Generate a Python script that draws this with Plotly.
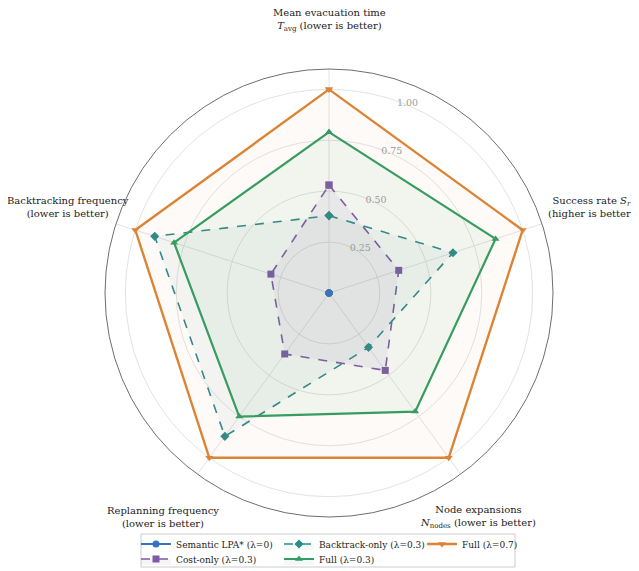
import plotly.graph_objects as go

# normalised scores per metric (clockwise from top)
categories = [
    "Mean evacuation time",
    "Success rate",
    "Node expansions",
    "Replanning frequency",
    "Backtracking frequency",
]
semantic_lpa = [0.0, 0.0, 0.0, 0.0, 0.0]
cost_only = [0.53, 0.36, 0.47, 0.37, 0.30]
backtrack_only = [0.38, 0.64, 0.33, 0.87, 0.90]
full_03 = [0.79, 0.86, 0.72, 0.75, 0.80]
full_07 = [1.0, 1.0, 1.0, 1.0, 1.0]

radial_ticks = [0.25, 0.50, 0.75, 1.00]
radial_ticktext = ["0.25", "0.50", "0.75", "1.00"]

axis_labels = [
    "Mean evacuation time<br><i>T</i><sub>avg</sub> (lower is better)",
    "Success rate <i>S<sub>r</sub></i><br>(higher is better)",
    "Node expansions<br><i>N</i><sub>nodes</sub> (lower is better)",
    "Replanning frequency<br>(lower is better)",
    "Backtracking frequency<br>(lower is better)",
]

FONT = "DejaVu Serif"

# the page body adds an 8px offset, so the figure is a bit smaller
OFF = 8
W, H = 639 - OFF, 571 - OFF
ML, MR, MT, MB = 50, 51, 0, 0
GW, GH = W - ML - MR, H - MT - MB


def px(x, y):
    # screen pixel -> paper coords
    return (x - OFF - ML) / GW, 1 - (y - OFF - MT) / GH


# polar circle: centre (329, 293), outer radius 224 on screen
x0, y1 = px(329 - 224, 293 - 224)
x1, y0 = px(329 + 224, 293 + 224)

# legend rows like matplotlib's 3-column legend (column-major order)
series = [
    ("Semantic LPA* (λ=0)", semantic_lpa, "#3373c4", "circle", "solid", 1.8, None, "legend"),
    ("Cost-only (λ=0.3)", cost_only, "#7e5aa8", "square", "dash", 1.6, "rgba(126,90,168,0.07)", "legend2"),
    ("Backtrack-only (λ=0.3)", backtrack_only, "#2b8a8c", "diamond", "dash", 1.6, "rgba(43,138,140,0.05)", "legend"),
    ("Full (λ=0.3)", full_03, "#2f9e62", "triangle-up", "solid", 2.2, "rgba(47,158,98,0.06)", "legend2"),
    ("Full (λ=0.7)", full_07, "#dc8435", "triangle-down", "solid", 2.4, "rgba(220,132,53,0.04)", "legend"),
]

fig = go.Figure()
for name, vals, color, sym, dash, lw, fillc, leg in series:
    fig.add_trace(go.Scatterpolar(
        r=vals + vals[:1],
        theta=categories + categories[:1],
        mode="lines+markers",
        name=name,
        line=dict(color=color, width=lw, dash=dash),
        marker=dict(symbol=sym, size=7, color=color),
        fill="toself" if fillc else "none",
        fillcolor=fillc,
        legend=leg,
    ))

leg_common = dict(
    orientation="h", xanchor="left", yanchor="middle",
    bgcolor="rgba(0,0,0,0)", borderwidth=0,
    entrywidth=98, entrywidthmode="pixels",
    font=dict(size=9, color="#222"),
)

fig.update_layout(
    width=W, height=H,
    margin=dict(l=ML, r=MR, t=MT, b=MB, autoexpand=False),
    paper_bgcolor="white",
    font=dict(family=FONT, size=10, color="#222"),
    polar=dict(
        bgcolor="white",
        domain=dict(x=[x0, x1], y=[y0, y1]),
        angularaxis=dict(
            direction="clockwise", rotation=90,
            showticklabels=False, ticks="",
            showline=True, linecolor="#6e6e6e", linewidth=1,
            gridcolor="#e3e3e3", gridwidth=0.8,
        ),
        radialaxis=dict(
            range=[0, 1.1], angle=72, tickangle=72,
            tickvals=radial_ticks, ticktext=radial_ticktext,
            tickfont=dict(size=9.5, color="#9a9a9a"),
            showline=False, ticks="",
            gridcolor="#e3e3e3", gridwidth=0.8,
        ),
    ),
    showlegend=True,
    legend=dict(leg_common, x=px(136, 0)[0], y=px(0, 544)[1]),
    legend2=dict(leg_common, x=px(136, 0)[0], y=px(0, 559)[1]),
)

# legend frame
bx0, by0 = px(141, 534)
bx1, by1 = px(515, 567)
fig.add_shape(type="rect", xref="paper", yref="paper",
              x0=bx0, y0=by0, x1=bx1, y1=by1,
              fillcolor="white", line=dict(color="#cccccc", width=1))

# category labels placed outside the circle like the original
label_pos = [(329, 20), (591, 207), (478, 517), (163, 517), (68, 207)]
for text, (x, y) in zip(axis_labels, label_pos):
    ax, ay = px(x, y)
    fig.add_annotation(
        x=ax, y=ay, xref="paper", yref="paper",
        text=text, showarrow=False,
        xanchor="center", yanchor="middle",
        font=dict(size=10, color="#222"),
    )

fig.write_html("out.html")
